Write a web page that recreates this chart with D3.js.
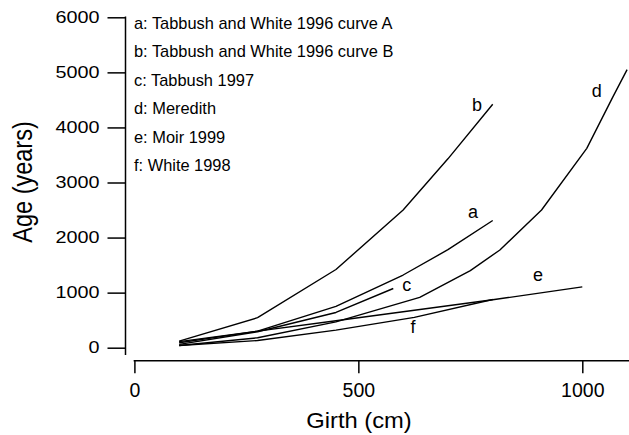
<!DOCTYPE html>
<html>
<head>
<meta charset="utf-8">
<script src="https://cdn.jsdelivr.net/npm/d3@7"></script>
<style>
  html, body { margin: 0; padding: 0; background: #fff; }
  svg { display: block; font-family: "Liberation Sans", Arial, Helvetica, sans-serif; }
</style>
</head>
<body>
<svg id="chart" width="629" height="435"></svg>
<script>
// ---- data ----
const xTicks = [0, 500, 1000];
const yTicks = [0, 1000, 2000, 3000, 4000, 5000, 6000];
const legendLines = [
  "a: Tabbush and White 1996 curve A",
  "b: Tabbush and White 1996 curve B",
  "c: Tabbush 1997",
  "d: Meredith",
  "e: Moir 1999",
  "f: White 1998"
];
const seriesNames = ["a", "b", "c", "d", "e", "f"];
const girthA = [100, 275, 450, 600, 700, 800];
const ageA   = [90, 300, 750, 1320, 1780, 2310];
const girthB = [100, 275, 450, 600, 700, 800];
const ageB   = [120, 545, 1420, 2500, 3430, 4420];
const girthC = [100, 275, 450, 578];
const ageC   = [60, 290, 640, 1075];
const girthD = [100, 275, 450, 637, 750, 816, 909, 1010, 1068, 1100];
const ageD   = [40, 180, 470, 915, 1400, 1775, 2500, 3620, 4550, 5050];
const girthE = [100, 275, 450, 625, 800, 1000];
const ageE   = [110, 300, 490, 680, 870, 1105];
const girthF = [100, 275, 450, 625, 800];
const ageF   = [40, 130, 320, 550, 875];
// curve label anchors (girth, age)
const labelGirth = [756, 765, 608, 1032, 901, 622];
const labelAge   = [2464, 4405, 1139, 4660, 1320, 375];

const seriesGirth = [girthA, girthB, girthC, girthD, girthE, girthF];
const seriesAge   = [ageA, ageB, ageC, ageD, ageE, ageF];

// ---- layout ----
const svg = d3.select("#chart");
const x = d3.scaleLinear().domain([0, 1000]).range([134.4, 582.3]);
const y = d3.scaleLinear().domain([0, 6000]).range([347.7, 17.3]);
const yAxisX = 125.5, xAxisY = 360.7;
const plotBottom = 355, plotRight = 632;

// y axis
const gy = svg.append("g").attr("transform", `translate(${yAxisX},0)`)
  .call(d3.axisLeft(y).tickValues(yTicks).tickSize(18).tickPadding(8).tickSizeOuter(0).tickFormat(d3.format("d")));
gy.select(".domain").remove();
gy.append("line").attr("x1", 0).attr("x2", 0).attr("y1", y(6000) - 0.75).attr("y2", plotBottom)
  .attr("stroke", "#000").attr("stroke-width", 1.5);
gy.selectAll(".tick line").attr("stroke", "#000").attr("stroke-width", 1.5);
gy.selectAll(".tick text").attr("fill", "#000").style("font-size", "16.5px")
  .attr("transform", function() {
    const tx = +d3.select(this).attr("x");
    return `translate(${tx},0) scale(1.2,1) translate(${-tx},0)`;
  });

// x axis
const gx = svg.append("g").attr("transform", `translate(0,${xAxisY})`)
  .call(d3.axisBottom(x).tickValues(xTicks).tickSize(12.5).tickPadding(10).tickSizeOuter(0).tickFormat(d3.format("d")));
gx.select(".domain").remove();
gx.append("line").attr("x1", x(0) - 0.75).attr("x2", plotRight).attr("y1", 0).attr("y2", 0)
  .attr("stroke", "#000").attr("stroke-width", 1.5);
gx.selectAll(".tick line").attr("stroke", "#000").attr("stroke-width", 1.5);
gx.selectAll(".tick text").attr("fill", "#000").style("font-size", "19.5px");

// axis titles
svg.append("text")
  .attr("transform", "translate(359,428) scale(1.08,1)")
  .attr("text-anchor", "middle").style("font-size", "22px").attr("fill", "#000")
  .text("Girth (cm)");
svg.append("text")
  .attr("transform", "translate(32,182) scale(1.15,1) rotate(-90)")
  .attr("text-anchor", "middle").style("font-size", "23.5px").attr("fill", "#000")
  .text("Age (years)");

// curves
const line = d3.line().x(d => x(d[0])).y(d => y(d[1]));
seriesGirth.forEach((g, i) => {
  const pts = g.map((v, j) => [v, seriesAge[i][j]]);
  svg.append("path").datum(pts).attr("d", line)
    .attr("fill", "none").attr("stroke", "#000").attr("stroke-width", 1.4)
    .attr("stroke-linejoin", "round");
});

// curve labels
seriesNames.forEach((n, i) => {
  svg.append("text")
    .attr("x", x(labelGirth[i])).attr("y", y(labelAge[i]))
    .attr("text-anchor", "middle").attr("dominant-baseline", "central")
    .style("font-size", "18px").attr("fill", "#000").text(n);
});

// legend text
legendLines.forEach((t, i) => {
  svg.append("text")
    .attr("x", 134).attr("y", 28.5 + i * 28.5)
    .style("font-size", "16.4px").attr("fill", "#000").text(t);
});
</script>
</body>
</html>
